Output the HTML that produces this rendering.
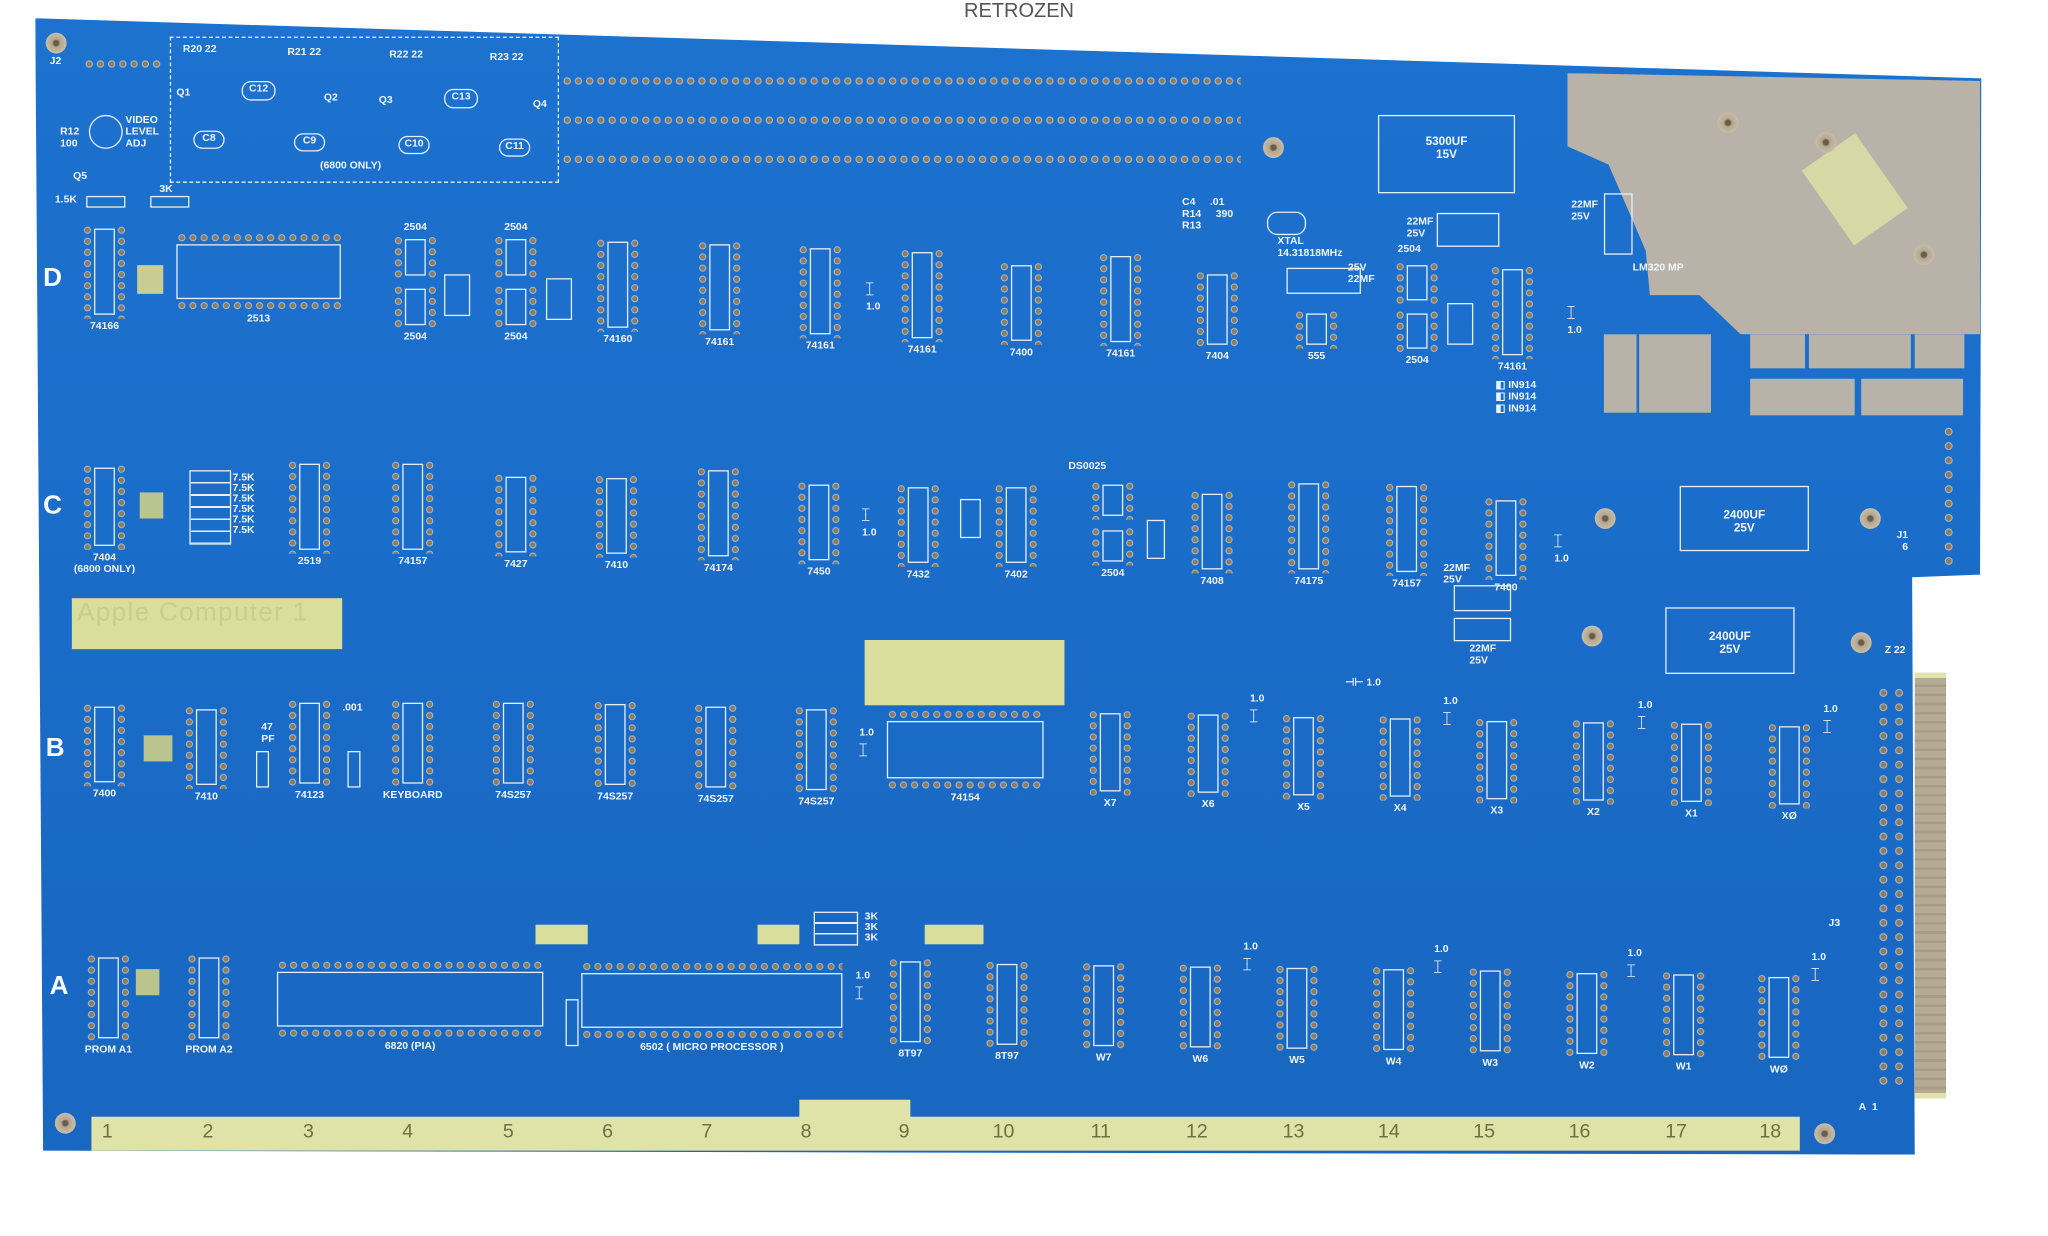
<!DOCTYPE html>
<html><head><meta charset="utf-8"><style>
html,body{margin:0;padding:0;background:#fff;}
body{width:2048px;height:1236px;overflow:hidden;position:relative;font-family:"Liberation Sans",sans-serif;}
#s{position:absolute;left:0;top:0;width:1568px;height:946px;transform:scale(1.3061);transform-origin:0 0;}
.a{position:absolute;}
#board{position:absolute;left:0;top:0;width:1568px;height:946px;background:linear-gradient(180deg,#1d72cf,#1a6cc8 50%,#1866c0);
clip-path:polygon(27px 14px,1517px 60px,1516px 440px,1464px 442px,1466px 884px,33px 881px);}
.ic{position:absolute;width:34px;}
.ic::before,.ic::after{content:"";position:absolute;top:0;bottom:0;width:8px;background:radial-gradient(circle,#8d7c5f 1.8px,#c9d2d8 2.3px,transparent 2.9px) 0 0/8px 8.5px repeat-y;}
.ic::before{left:0}.ic::after{right:0}
.ic i{position:absolute;left:9px;right:9px;top:3px;bottom:3px;border:1.3px solid #e6eef8;}
.ic span,.bg span{position:absolute;top:100%;left:-30px;right:-30px;text-align:center;color:#f2f6fb;font-size:8px;font-weight:bold;margin-top:1px;}
.bg{position:absolute;}
.bg::before,.bg::after{content:"";position:absolute;left:0;right:0;height:8px;background:radial-gradient(circle,#8d7c5f 1.8px,#c9d2d8 2.3px,transparent 2.9px) 0 0/8.5px 8px repeat-x;}
.bg::before{top:0}.bg::after{bottom:0}
.bg i{position:absolute;left:0;right:0;top:9px;bottom:9px;border:1.3px solid #e6eef8;}
.t{position:absolute;color:#f2f6fb;font-size:8px;font-weight:bold;white-space:nowrap;}
.L{position:absolute;color:#fff;font-size:20px;font-weight:bold;}
.dots{position:absolute;height:8px;background:radial-gradient(circle,#8d7c5f 1.8px,#c9d2d8 2.4px,transparent 3px) 0 0/8.6px 8px repeat-x;}
.vd{position:absolute;width:8px;background:radial-gradient(circle,#8d7c5f 2px,#c9d2d8 2.6px,transparent 3.2px) 0 0/8px 11px repeat-y;}
.box{position:absolute;border:1.3px solid #e6eef8;color:#f2f6fb;font-size:9px;font-weight:bold;text-align:center;}
.hole{position:absolute;width:16px;height:16px;border-radius:50%;background:radial-gradient(circle,#6a5d48 2px,#b3a68f 3px,#c7bda9 8px);}
.sil{position:absolute;background:#b9b2a8;}
.num{position:absolute;top:858px;color:#6f6f42;font-size:15px;}
</style></head><body>
<div style="position:absolute;left:964px;top:0;color:#555;font-size:20px;">RETROZEN</div>
<div id="s">
<div id="board"></div>
<div class="sil" style="left:1200px;top:56px;width:316px;height:200px;clip-path:polygon(0 0,100% 3%,100% 100%,42% 100%,32% 85%,20% 85%,19% 68%,10% 35%,0 28%);"></div>
<div class="a" style="left:1395px;top:110px;width:50px;height:70px;background:#d8d7a6;transform:rotate(-35deg);"></div>
<div class="sil" style="left:1228px;top:256px;width:25px;height:60px"></div>
<div class="sil" style="left:1255px;top:256px;width:55px;height:60px"></div>
<div class="sil" style="left:1340px;top:256px;width:42px;height:26px"></div>
<div class="sil" style="left:1385px;top:256px;width:78px;height:26px"></div>
<div class="sil" style="left:1466px;top:256px;width:38px;height:26px"></div>
<div class="sil" style="left:1340px;top:290px;width:80px;height:28px"></div>
<div class="sil" style="left:1425px;top:290px;width:78px;height:28px"></div>
<div class="t" style="left:1250px;top:200px">LM320 MP</div>
<div class="hole" style="left:35px;top:25px"></div>
<div class="hole" style="left:42px;top:852px"></div>
<div class="hole" style="left:1389px;top:860px"></div>
<div class="hole" style="left:967px;top:105px"></div>
<div class="hole" style="left:1221px;top:389px"></div>
<div class="hole" style="left:1424px;top:389px"></div>
<div class="hole" style="left:1211px;top:479px"></div>
<div class="hole" style="left:1417px;top:484px"></div>
<div class="hole" style="left:1315px;top:86px"></div>
<div class="hole" style="left:1390px;top:101px"></div>
<div class="hole" style="left:1465px;top:187px"></div>
<div class="a" style="left:70px;top:855px;width:1308px;height:26px;background:#e0e3a8;"></div>
<div class="a" style="left:612px;top:842px;width:85px;height:20px;background:#e0e3a8;"></div>
<div class="num" style="left:78px">1</div><div class="num" style="left:155px">2</div><div class="num" style="left:232px">3</div><div class="num" style="left:308px">4</div><div class="num" style="left:385px">5</div><div class="num" style="left:461px">6</div><div class="num" style="left:537px">7</div><div class="num" style="left:613px">8</div><div class="num" style="left:688px">9</div><div class="num" style="left:760px">10</div><div class="num" style="left:835px">11</div><div class="num" style="left:908px">12</div><div class="num" style="left:982px">13</div><div class="num" style="left:1055px">14</div><div class="num" style="left:1128px">15</div><div class="num" style="left:1201px">16</div><div class="num" style="left:1275px">17</div><div class="num" style="left:1347px">18</div>
<div class="a" style="left:1466px;top:515px;width:24px;height:318px;background:repeating-linear-gradient(180deg,#b5ab95 0 5px,#a79c86 5px 7px);border-top:4px solid #e0e3a8;border-bottom:4px solid #e0e3a8;"></div>
<div class="a" style="left:55px;top:458px;width:207px;height:39px;background:#d9de9c;color:#c8cf8a;font-size:20px;letter-spacing:1px;padding-left:4px;box-sizing:border-box;">Apple Computer 1</div>
<div class="a" style="left:662px;top:490px;width:153px;height:50px;background:#d9de9c;"></div>
<div class="a" style="left:410px;top:708px;width:40px;height:15px;background:#d9de9c;"></div>
<div class="a" style="left:580px;top:708px;width:32px;height:15px;background:#d9de9c;"></div>
<div class="a" style="left:708px;top:708px;width:45px;height:15px;background:#d9de9c;"></div>
<div class="a" style="left:105px;top:203px;width:20px;height:22px;background:#c9cc93;"></div>
<div class="a" style="left:107px;top:377px;width:18px;height:20px;background:#b9c48f;"></div>
<div class="a" style="left:110px;top:563px;width:22px;height:20px;background:#b9c48f;"></div>
<div class="a" style="left:104px;top:742px;width:18px;height:20px;background:#b9c48f;"></div>
<div class="dots" style="left:430px;top:58px;width:520px"></div>
<div class="dots" style="left:430px;top:88px;width:520px"></div>
<div class="dots" style="left:430px;top:118px;width:520px"></div>
<div class="dots" style="left:64px;top:45px;width:60px"></div>
<div class="vd" style="left:1438px;top:525px;height:310px"></div>
<div class="vd" style="left:1450px;top:525px;height:310px"></div>
<div class="vd" style="left:1488px;top:325px;height:110px"></div>
<div class="t" style="left:1400px;top:702px">J3</div>
<div class="t" style="left:1423px;top:843px">A&nbsp;&nbsp;1</div>
<div class="t" style="left:1443px;top:493px">Z 22</div>
<div class="t" style="left:1452px;top:405px">J1<br>&nbsp;&nbsp;6</div>
<div class="t" style="left:38px;top:42px">J2</div>
<div class="a" style="left:130px;top:28px;width:296px;height:110px;border:1.5px dashed #e6eef8;"></div>
<div class="t" style="left:140px;top:33px">R20 22</div><div class="t" style="left:220px;top:35px">R21 22</div><div class="t" style="left:298px;top:37px">R22 22</div><div class="t" style="left:375px;top:39px">R23 22</div>
<div class="t" style="left:135px;top:66px">Q1</div><div class="t" style="left:248px;top:70px">Q2</div><div class="t" style="left:290px;top:72px">Q3</div><div class="t" style="left:408px;top:75px">Q4</div>
<div class="box" style="left:148px;top:100px;width:22px;height:12px;border-radius:7px;font-size:8px">C8</div>
<div class="box" style="left:225px;top:102px;width:22px;height:12px;border-radius:7px;font-size:8px">C9</div>
<div class="box" style="left:305px;top:104px;width:22px;height:12px;border-radius:7px;font-size:8px">C10</div>
<div class="box" style="left:382px;top:106px;width:22px;height:12px;border-radius:7px;font-size:8px">C11</div>
<div class="box" style="left:185px;top:62px;width:24px;height:13px;border-radius:7px;font-size:8px">C12</div>
<div class="box" style="left:340px;top:68px;width:24px;height:13px;border-radius:7px;font-size:8px">C13</div>
<div class="t" style="left:245px;top:122px">(6800 ONLY)</div>
<div class="t" style="left:96px;top:87px;line-height:9px">VIDEO<br>LEVEL<br>ADJ</div>
<div class="t" style="left:46px;top:96px;line-height:9px">R12<br>100</div>
<div class="box" style="left:68px;top:88px;width:24px;height:24px;border-radius:50%"></div>
<div class="t" style="left:56px;top:130px">Q5</div>
<div class="t" style="left:42px;top:148px">1.5K</div><div class="t" style="left:122px;top:140px">3K</div>
<div class="box" style="left:66px;top:150px;width:28px;height:7px"></div><div class="box" style="left:115px;top:150px;width:28px;height:7px"></div>
<div class="box" style="left:1055px;top:88px;width:105px;height:60px;line-height:10px;padding-top:14px;box-sizing:border-box">5300UF<br>15V</div>
<div class="box" style="left:1286px;top:372px;width:99px;height:50px;line-height:10px;padding-top:16px;box-sizing:border-box">2400UF<br>25V</div>
<div class="box" style="left:1275px;top:465px;width:99px;height:51px;line-height:10px;padding-top:16px;box-sizing:border-box">2400UF<br>25V</div>
<div class="box" style="left:1100px;top:163px;width:46px;height:24px"></div>
<div class="box" style="left:1228px;top:148px;width:20px;height:45px"></div>
<div class="t" style="left:1203px;top:152px">22MF<br>25V</div>
<div class="t" style="left:1077px;top:165px">22MF<br>25V</div>
<div class="box" style="left:985px;top:205px;width:55px;height:18px"></div>
<div class="box" style="left:970px;top:162px;width:28px;height:16px;border-radius:8px"></div>
<div class="t" style="left:978px;top:180px">XTAL<br>14.31818MHz</div>
<div class="t" style="left:905px;top:150px">C4 &nbsp;&nbsp;&nbsp;&nbsp;.01<br>R14 &nbsp;&nbsp;&nbsp;&nbsp;390<br>R13</div>
<div class="t" style="left:1145px;top:290px">◧ IN914<br>◧ IN914<br>◧ IN914</div>
<div class="box" style="left:1113px;top:448px;width:42px;height:18px"></div>
<div class="box" style="left:1113px;top:473px;width:42px;height:16px"></div>
<div class="t" style="left:1125px;top:492px">22MF<br>25V</div>
<div class="t" style="left:1105px;top:430px">22MF<br>25V</div>
<div class="t" style="left:1032px;top:200px">25V<br>22MF</div>
<div class="t" style="left:818px;top:352px">DS0025</div>
<div class="t" style="left:178px;top:362px;line-height:8px">7.5K<br>7.5K<br>7.5K<br>7.5K<br>7.5K<br>7.5K</div>
<div class="box" style="left:145px;top:360px;width:30px;height:55px;background:repeating-linear-gradient(180deg,transparent 0 8px,#e6eef8 8px 9.3px)"></div>
<div class="box" style="left:623px;top:698px;width:32px;height:24px;background:repeating-linear-gradient(180deg,transparent 0 7px,#e6eef8 7px 8.3px)"></div>
<div class="t" style="left:662px;top:698px;line-height:8px">3K<br>3K<br>3K</div>
<div class="L" style="left:33px;top:202px">D</div>
<div class="L" style="left:33px;top:376px">C</div>
<div class="L" style="left:35px;top:562px">B</div>
<div class="L" style="left:38px;top:744px">A</div>
<div class="ic" style="left:63px;top:172px;height:72px"><i></i><span>74166</span></div>
<div class="bg" style="left:135px;top:178px;width:126px;height:60px"><i></i><span>2513</span></div>
<div class="ic" style="left:301px;top:180px;height:34px"><i></i><span style="top:-12px">2504</span></div>
<div class="ic" style="left:301px;top:218px;height:34px"><i></i><span>2504</span></div>
<div class="ic" style="left:378px;top:180px;height:34px"><i></i><span style="top:-12px">2504</span></div>
<div class="ic" style="left:378px;top:218px;height:34px"><i></i><span>2504</span></div>
<div class="box" style="left:340px;top:210px;width:18px;height:30px"></div>
<div class="box" style="left:418px;top:213px;width:18px;height:30px"></div>
<div class="ic" style="left:456px;top:182px;height:72px"><i></i><span>74160</span></div>
<div class="ic" style="left:534px;top:184px;height:72px"><i></i><span>74161</span></div>
<div class="ic" style="left:611px;top:187px;height:72px"><i></i><span>74161</span></div>
<div class="ic" style="left:689px;top:190px;height:72px"><i></i><span>74161</span></div>
<div class="ic" style="left:765px;top:200px;height:64px"><i></i><span>7400</span></div>
<div class="ic" style="left:841px;top:193px;height:72px"><i></i><span>74161</span></div>
<div class="ic" style="left:915px;top:207px;height:60px"><i></i><span>7404</span></div>
<div class="ic" style="left:991px;top:237px;height:30px"><i></i><span>555</span></div>
<div class="ic" style="left:1068px;top:200px;height:33px"><i></i></div>
<div class="ic" style="left:1068px;top:237px;height:33px"><i></i><span>2504</span></div>
<div class="box" style="left:1108px;top:232px;width:18px;height:30px"></div>
<div class="ic" style="left:1141px;top:203px;height:72px"><i></i><span>74161</span></div>
<div class="t" style="left:1070px;top:186px">2504</div>
<div class="ic" style="left:63px;top:355px;height:66px"><i></i><span>7404<br>(6800 ONLY)</span></div>
<div class="ic" style="left:220px;top:352px;height:72px"><i></i><span>2519</span></div>
<div class="ic" style="left:299px;top:352px;height:72px"><i></i><span>74157</span></div>
<div class="ic" style="left:378px;top:362px;height:64px"><i></i><span>7427</span></div>
<div class="ic" style="left:455px;top:363px;height:64px"><i></i><span>7410</span></div>
<div class="ic" style="left:533px;top:357px;height:72px"><i></i><span>74174</span></div>
<div class="ic" style="left:610px;top:368px;height:64px"><i></i><span>7450</span></div>
<div class="ic" style="left:686px;top:370px;height:64px"><i></i><span>7432</span></div>
<div class="ic" style="left:761px;top:370px;height:64px"><i></i><span>7402</span></div>
<div class="ic" style="left:835px;top:368px;height:30px"><i></i></div>
<div class="ic" style="left:835px;top:403px;height:30px"><i></i><span>2504</span></div>
<div class="ic" style="left:911px;top:375px;height:64px"><i></i><span>7408</span></div>
<div class="ic" style="left:985px;top:367px;height:72px"><i></i><span>74175</span></div>
<div class="ic" style="left:1060px;top:369px;height:72px"><i></i><span>74157</span></div>
<div class="ic" style="left:1136px;top:380px;height:64px"><i></i><span>7400</span></div>
<div class="box" style="left:735px;top:382px;width:14px;height:28px"></div>
<div class="box" style="left:878px;top:398px;width:12px;height:28px"></div>
<div class="ic" style="left:63px;top:538px;height:64px"><i></i><span>7400</span></div>
<div class="ic" style="left:141px;top:540px;height:64px"><i></i><span>7410</span></div>
<div class="ic" style="left:220px;top:535px;height:68px"><i></i><span>74123</span></div>
<div class="ic" style="left:299px;top:535px;height:68px"><i></i><span>KEYBOARD</span></div>
<div class="ic" style="left:376px;top:535px;height:68px"><i></i><span>74S257</span></div>
<div class="ic" style="left:454px;top:536px;height:68px"><i></i><span>74S257</span></div>
<div class="ic" style="left:531px;top:538px;height:68px"><i></i><span>74S257</span></div>
<div class="ic" style="left:608px;top:540px;height:68px"><i></i><span>74S257</span></div>
<div class="bg" style="left:679px;top:543px;width:120px;height:62px"><i></i><span>74154</span></div>
<div class="ic" style="left:833px;top:543px;height:66px"><i></i><span>X7</span></div>
<div class="ic" style="left:908px;top:544px;height:66px"><i></i><span>X6</span></div>
<div class="ic" style="left:981px;top:546px;height:66px"><i></i><span>X5</span></div>
<div class="ic" style="left:1055px;top:547px;height:66px"><i></i><span>X4</span></div>
<div class="ic" style="left:1129px;top:549px;height:66px"><i></i><span>X3</span></div>
<div class="ic" style="left:1203px;top:550px;height:66px"><i></i><span>X2</span></div>
<div class="ic" style="left:1278px;top:551px;height:66px"><i></i><span>X1</span></div>
<div class="ic" style="left:1353px;top:553px;height:66px"><i></i><span>XØ</span></div>
<div class="box" style="left:196px;top:575px;width:8px;height:26px"></div>
<div class="box" style="left:266px;top:575px;width:8px;height:26px"></div>
<div class="ic" style="left:66px;top:730px;height:68px"><i></i><span>PROM A1</span></div>
<div class="ic" style="left:143px;top:730px;height:68px"><i></i><span>PROM A2</span></div>
<div class="bg" style="left:212px;top:735px;width:204px;height:60px"><i></i><span>6820 (PIA)</span></div>
<div class="bg" style="left:445px;top:736px;width:200px;height:60px"><i></i><span>6502 ( MICRO PROCESSOR )</span></div>
<div class="box" style="left:433px;top:765px;width:8px;height:34px"></div>
<div class="ic" style="left:680px;top:733px;height:68px"><i></i><span>8T97</span></div>
<div class="ic" style="left:754px;top:735px;height:68px"><i></i><span>8T97</span></div>
<div class="ic" style="left:828px;top:736px;height:68px"><i></i><span>W7</span></div>
<div class="ic" style="left:902px;top:737px;height:68px"><i></i><span>W6</span></div>
<div class="ic" style="left:976px;top:738px;height:68px"><i></i><span>W5</span></div>
<div class="ic" style="left:1050px;top:739px;height:68px"><i></i><span>W4</span></div>
<div class="ic" style="left:1124px;top:740px;height:68px"><i></i><span>W3</span></div>
<div class="ic" style="left:1198px;top:742px;height:68px"><i></i><span>W2</span></div>
<div class="ic" style="left:1272px;top:743px;height:68px"><i></i><span>W1</span></div>
<div class="ic" style="left:1345px;top:745px;height:68px"><i></i><span>WØ</span></div>
<div class="t" style="left:655px;top:742px">1.0<br>┬<br>┴</div>
<div class="t" style="left:952px;top:720px">1.0<br>┬<br>┴</div>
<div class="t" style="left:1098px;top:722px">1.0<br>┬<br>┴</div>
<div class="t" style="left:1246px;top:725px">1.0<br>┬<br>┴</div>
<div class="t" style="left:1387px;top:728px">1.0<br>┬<br>┴</div>
<div class="t" style="left:957px;top:530px">1.0<br>┬<br>┴</div>
<div class="t" style="left:1105px;top:532px">1.0<br>┬<br>┴</div>
<div class="t" style="left:1254px;top:535px">1.0<br>┬<br>┴</div>
<div class="t" style="left:1396px;top:538px">1.0<br>┬<br>┴</div>
<div class="t" style="left:658px;top:556px">1.0<br>┬<br>┴</div>
<div class="t" style="left:660px;top:385px">┬<br>┴<br>1.0</div>
<div class="t" style="left:663px;top:212px">┬<br>┴<br>1.0</div>
<div class="t" style="left:1190px;top:405px">┬<br>┴<br>1.0</div>
<div class="t" style="left:1200px;top:230px">┬<br>┴<br>1.0</div>
<div class="t" style="left:1030px;top:518px">⊣⊢ 1.0</div>
<div class="t" style="left:262px;top:537px">.001</div>
<div class="t" style="left:200px;top:552px">47<br>PF</div>
</div>
</body></html>
